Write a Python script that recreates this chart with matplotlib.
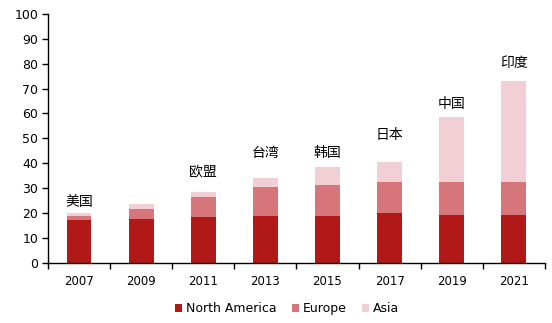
import numpy as np
import matplotlib
matplotlib.use("Agg")
import matplotlib.pyplot as plt

plt.rcParams['font.family'] = ['DejaVu Sans', 'Noto Sans CJK SC']

# Data
years = ["2007", "2009", "2011", "2013", "2015", "2017", "2019", "2021"]
north_america = [17.2, 17.7, 18.2, 18.8, 18.8, 19.9, 19.2, 19.2]
europe = [1.6, 3.8, 8.1, 11.5, 12.4, 12.4, 13.1, 13.1]
asia = [1.1, 2.1, 2.1, 3.6, 7.2, 8.1, 26.2, 40.9]

# Country labels above some bars
label_idx = [0, 2, 3, 4, 5, 6, 7]
label_text = ["美国", "欧盟", "台湾", "韩国", "日本", "中国", "印度"]
label_y = [24.5, 36.6, 44.0, 44.0, 51.3, 63.8, 80.4]

c_na = "#B01917"
c_eu = "#D6767A"
c_as = "#F2CFD4"

fig = plt.figure(figsize=(5.52, 3.23), dpi=100)
ax = fig.add_axes([0.087, 0.187, 0.900, 0.770])

x = np.arange(len(years))
na = np.array(north_america)
eu = np.array(europe)
asi = np.array(asia)
w = 0.4
ax.bar(x, na, w, color=c_na, label="North America")
ax.bar(x, eu, w, bottom=na, color=c_eu, label="Europe")
ax.bar(x, asi, w, bottom=na + eu, color=c_as, label="Asia")

for i, t, yy in zip(label_idx, label_text, label_y):
    ax.text(x[i], yy, t, ha="center", va="center", fontsize=10,
            family=["Noto Sans CJK SC", "DejaVu Sans"])

ax.set_xlim(-0.5, len(years) - 0.5)
ax.set_ylim(0, 100)
ax.set_yticks(range(0, 101, 10))
ax.tick_params(axis="y", labelsize=9, length=4, width=1, direction="out", pad=3)

ax.set_xticks(x)
ax.set_xticklabels(years, fontsize=8.5)
ax.tick_params(axis="x", length=0, pad=9)
ax.set_xticks(np.arange(len(years) + 1) - 0.5, minor=True)
ax.tick_params(axis="x", which="minor", length=4, width=1, direction="out")

for s in ["top", "right"]:
    ax.spines[s].set_visible(False)
ax.spines["left"].set_linewidth(1)
ax.spines["bottom"].set_linewidth(1)

fig.legend(loc="lower center", bbox_to_anchor=(0.52, -0.01), ncol=3, frameon=False,
           fontsize=9, handlelength=0.6, handleheight=0.6, handletextpad=0.3,
           columnspacing=1.2)

fig.savefig("out.png", dpi=100)
